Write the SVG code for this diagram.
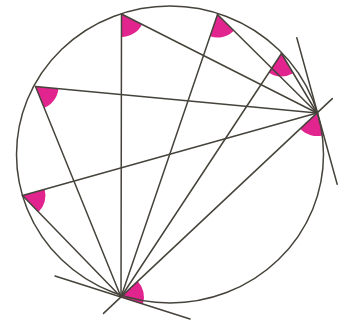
<svg xmlns="http://www.w3.org/2000/svg" width="344" height="322" viewBox="0 0 344 322">
<style>
.ln{stroke:#45433a;stroke-width:1.5;fill:none;stroke-linecap:round}
.w{fill:#e2248f;stroke:none}
</style>
<rect width="344" height="322" fill="#ffffff"/>
<g id="angles">
<path class="w" d="M121.5,14 L142.01,24.41 A23,23 0 0 1 121.46,37 Z"/>
<path class="w" d="M35.5,86.5 L58.4,88.66 A23,23 0 0 1 44.17,107.8 Z"/>
<path class="w" d="M217.5,14.5 L233.8,30.72 A23,23 0 0 1 210.06,36.26 Z"/>
<path class="w" d="M281.5,53.5 L293.16,73.32 A23,23 0 0 1 268.82,72.69 Z"/>
<path class="w" d="M22.5,195.5 L44.64,189.29 A23,23 0 0 1 38.56,211.97 Z"/>
<path class="w" d="M317,113 L323.11,135.17 A23,23 0 0 1 300.23,128.74 Z"/>
<path class="w" d="M121,297 L137.77,281.26 A23,23 0 0 1 142.91,303.98 Z"/>
</g>
<g id="circle">
<ellipse class="ln" cx="170" cy="154.5" rx="153.5" ry="148.5"/>
</g>
<g id="lines">
<line class="ln" x1="121" y1="297" x2="121.5" y2="14"/>
<line class="ln" x1="121" y1="297" x2="35.5" y2="86.5"/>
<line class="ln" x1="121" y1="297" x2="217.5" y2="14.5"/>
<line class="ln" x1="121" y1="297" x2="281.5" y2="53.5"/>
<line class="ln" x1="121" y1="297" x2="22.5" y2="195.5"/>
<line class="ln" x1="317" y1="113" x2="121.5" y2="14"/>
<line class="ln" x1="317" y1="113" x2="35.5" y2="86.5"/>
<line class="ln" x1="317" y1="113" x2="217.5" y2="14.5"/>
<line class="ln" x1="317" y1="113" x2="281.5" y2="53.5"/>
<line class="ln" x1="317" y1="113" x2="22.5" y2="195.5"/>
<line class="ln" x1="103.5" y1="313.4" x2="332.3" y2="98.6"/>
<line class="ln" x1="296.8" y1="37.7" x2="337.2" y2="184.3"/>
<line class="ln" x1="55" y1="276" x2="190" y2="319"/>
</g>
</svg>
